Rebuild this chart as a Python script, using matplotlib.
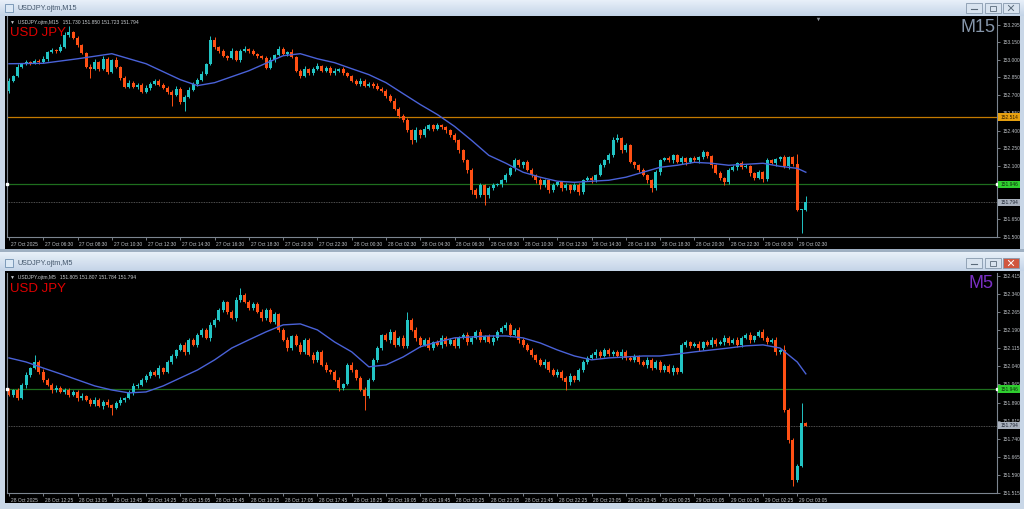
import numpy as np
import matplotlib
matplotlib.use("Agg")
import matplotlib.pyplot as plt
from matplotlib.patches import Rectangle
from matplotlib.colors import LinearSegmentedColormap
import matplotlib.transforms as mtransforms

plt.rcParams['font.family'] = ['Liberation Sans', 'DejaVu Sans']

# ------------------------------------------------------------------ data
# M15 panel (27 Oct 04:30 .. 29 Oct 03:00), open of first bar, closes, wick lengths
m15_open0 = 152.739
m15_close = [
    152.823, 152.865, 152.941, 152.966, 152.983, 152.975, 152.992, 152.983, 153.008, 153.067,
    153.084, 153.076, 153.110, 153.211, 153.236, 153.185, 153.126, 153.059, 152.941, 152.924,
    152.983, 152.924, 153.008, 152.899, 153.000, 152.941, 152.848, 152.772, 152.806, 152.772,
    152.789, 152.730, 152.764, 152.798, 152.823, 152.789, 152.764, 152.730, 152.705, 152.756,
    152.646, 152.688, 152.747, 152.798, 152.831, 152.882, 152.966, 153.169, 153.110, 153.076,
    153.034, 153.017, 153.076, 153.000, 153.076, 153.093, 153.076, 153.051, 153.034, 153.017,
    152.933, 153.000, 153.042, 153.093, 153.051, 153.067, 153.025, 152.907, 152.865, 152.924,
    152.890, 152.924, 152.949, 152.907, 152.933, 152.890, 152.907, 152.924, 152.890, 152.865,
    152.823, 152.798, 152.823, 152.781, 152.798, 152.781, 152.756, 152.739, 152.697, 152.655,
    152.587, 152.528, 152.486, 152.402, 152.317, 152.402, 152.360, 152.418, 152.444, 152.418,
    152.444, 152.427, 152.402, 152.360, 152.317, 152.233, 152.149, 152.065, 151.896, 151.854,
    151.938, 151.854, 151.913, 151.938, 151.945, 151.980, 152.022, 152.081, 152.149, 152.107,
    152.132, 152.065, 152.022, 151.980, 151.938, 151.980, 151.896, 151.938, 151.963, 151.913,
    151.938, 151.896, 151.938, 151.879, 151.980, 151.997, 151.980, 152.022, 152.107, 152.149,
    152.191, 152.317, 152.334, 152.233, 152.275, 152.132, 152.107, 152.065, 152.022, 151.980,
    151.913, 152.048, 152.149, 152.166, 152.149, 152.191, 152.132, 152.166, 152.132, 152.166,
    152.149, 152.174, 152.216, 152.183, 152.107, 152.039, 151.997, 151.963, 152.065, 152.090,
    152.124, 152.090, 152.098, 152.039, 151.997, 152.048, 151.989, 152.149, 152.124, 152.157,
    152.174, 152.098, 152.174, 152.115, 151.728, 151.730, 151.794]
m15_up_wick = [
    .02, .01, .02, .01, .015, .01, .015, .01, .02, .01, .015, .01, .02, .02, .05, .01, .015, .01, .01, .02,
    .02, .01, .02, .015, .01, .02, .01, .015, .02, .01, .015, .01, .02, .01, .015, .01, .01, .015, .01, .02,
    .01, .015, .02, .01, .015, .02, .01, .033, .02, .01, .015, .01, .02, .01, .015, .02, .01, .015, .01, .01,
    .015, .02, .01, .02, .015, .01, .02, .01, .015, .02, .01, .015, .02, .01, .015, .01, .02, .01, .015, .01,
    .01, .015, .02, .01, .015, .01, .02, .01, .015, .01, .02, .01, .015, .02, .01, .03, .015, .02, .01, .015,
    .02, .01, .015, .01, .02, .01, .015, .01, .02, .015, .02, .01, .015, .02, .01, .015, .02, .01, .02, .015,
    .01, .02, .015, .01, .02, .01, .015, .02, .01, .015, .02, .01, .015, .02, .01, .015, .02, .01, .02, .015,
    .02, .03, .04, .015, .02, .01, .015, .01, .02, .015, .01, .02, .015, .01, .02, .015, .01, .02, .015, .01,
    .02, .015, .02, .01, .015, .01, .02, .01, .015, .02, .01, .015, .02, .01, .015, .02, .01, .02, .015, .01,
    .015, .02, .01, .015, .085, .01, .056]
m15_lo_wick = [
    .02, .015, .01, .015, .01, .02, .01, .015, .01, .02, .01, .015, .01, .01, .015, .01, .02, .01, .015, .076,
    .015, .02, .01, .02, .015, .01, .02, .01, .015, .01, .02, .015, .01, .02, .01, .015, .01, .02, .093, .015,
    .02, .076, .015, .01, .02, .01, .015, .01, .02, .015, .01, .02, .015, .01, .02, .01, .015, .01, .02, .015,
    .01, .015, .02, .01, .015, .02, .01, .015, .02, .01, .015, .02, .01, .015, .01, .02, .015, .01, .02, .01,
    .015, .01, .02, .015, .01, .02, .01, .015, .02, .01, .015, .02, .01, .015, .03, .01, .02, .015, .01, .02,
    .015, .01, .02, .015, .01, .02, .015, .02, .03, .02, .015, .084, .02, .015, .01, .02, .015, .01, .02, .015,
    .02, .01, .015, .02, .03, .015, .02, .015, .01, .02, .015, .02, .01, .02, .015, .01, .02, .015, .01, .015,
    .02, .015, .01, .02, .015, .01, .02, .015, .01, .02, .03, .015, .02, .01, .015, .02, .01, .015, .02, .01,
    .015, .02, .01, .015, .02, .01, .015, .02, .015, .01, .02, .015, .01, .02, .015, .01, .02, .015, .01, .02,
    .015, .01, .02, .015, .01, .196, .007]
m15_ma_idx = [0, 8, 16, 24, 32, 40, 44, 48, 56, 64, 68, 72, 76, 80, 84, 88, 92, 96, 100, 104,
              108, 112, 116, 120, 124, 128, 132, 136, 140, 144, 148, 152, 156, 160, 164, 168,
              172, 176, 180, 184, 186]
m15_ma_val = [152.966, 152.970, 153.008, 153.051, 152.966, 152.831, 152.781, 152.806, 152.907, 153.034,
              153.051, 153.008, 152.975, 152.924, 152.874, 152.806, 152.713, 152.621, 152.536, 152.436,
              152.317, 152.191, 152.124, 152.048, 152.006, 151.972, 151.963, 151.972, 151.980, 152.006,
              152.048, 152.090, 152.107, 152.132, 152.124, 152.107, 152.115, 152.124, 152.098, 152.081,
              152.048]
m15_time_labels = ['27 Oct 2025', '27 Oct 06:30', '27 Oct 08:30', '27 Oct 10:30', '27 Oct 12:30',
                   '27 Oct 14:30', '27 Oct 16:30', '27 Oct 18:30', '27 Oct 20:30', '27 Oct 22:30',
                   '28 Oct 00:30', '28 Oct 02:30', '28 Oct 04:30', '28 Oct 06:30', '28 Oct 08:30',
                   '28 Oct 10:30', '28 Oct 12:30', '28 Oct 14:30', '28 Oct 16:30', '28 Oct 18:30',
                   '28 Oct 20:30', '28 Oct 22:30', '29 Oct 00:30', '29 Oct 02:30']
m15_price_ticks = [153.295, 153.150, 153.000, 152.850, 152.700, 152.550, 152.400, 152.250,
                   152.100, 151.650, 151.500]
m15_ohlc_header = ['151.730', '151.850', '151.723', '151.794']
m15_orange_level = 152.514

# M5 panel (28 Oct 11:45 .. 29 Oct 03:15)
m5_open0 = 151.942
m5_close = [
    151.922, 151.942, 151.909, 151.963, 152.004, 152.033, 152.058, 152.017, 151.984, 151.963,
    151.942, 151.951, 151.934, 151.942, 151.922, 151.934, 151.909, 151.917, 151.901, 151.884,
    151.901, 151.876, 151.893, 151.880, 151.868, 151.888, 151.901, 151.909, 151.934, 151.959,
    151.963, 151.984, 152.000, 152.017, 152.004, 152.033, 152.017, 152.058, 152.083, 152.108,
    152.129, 152.100, 152.150, 152.129, 152.170, 152.191, 152.158, 152.212, 152.233, 152.274,
    152.307, 152.266, 152.241, 152.315, 152.336, 152.307, 152.282, 152.299, 152.266, 152.241,
    152.274, 152.224, 152.257, 152.191, 152.150, 152.116, 152.166, 152.129, 152.100, 152.150,
    152.087, 152.067, 152.100, 152.046, 152.025, 152.017, 151.984, 151.951, 151.967, 152.046,
    152.025, 151.992, 151.942, 151.917, 151.984, 152.067, 152.116, 152.170, 152.150, 152.183,
    152.129, 152.158, 152.125, 152.233, 152.191, 152.158, 152.129, 152.150, 152.116, 152.141,
    152.129, 152.158, 152.133, 152.150, 152.125, 152.158, 152.170, 152.141, 152.158, 152.183,
    152.150, 152.166, 152.141, 152.158, 152.183, 152.199, 152.212, 152.170, 152.191, 152.150,
    152.129, 152.108, 152.087, 152.067, 152.046, 152.058, 152.025, 152.004, 152.017, 151.992,
    151.975, 152.000, 151.984, 152.025, 152.058, 152.075, 152.087, 152.100, 152.083, 152.108,
    152.091, 152.100, 152.083, 152.100, 152.075, 152.067, 152.083, 152.058, 152.046, 152.067,
    152.033, 152.058, 152.025, 152.042, 152.017, 152.033, 152.017, 152.129, 152.141, 152.125,
    152.133, 152.116, 152.141, 152.129, 152.150, 152.133, 152.141, 152.158, 152.137, 152.150,
    152.129, 152.158, 152.170, 152.150, 152.166, 152.183, 152.158, 152.141, 152.150, 152.100,
    152.108, 151.859, 151.735, 151.569, 151.627, 151.805, 151.794]
m5_up_wick = [
    .008, .006, .01, .008, .012, .006, .029, .008, .01, .006, .008, .012, .006, .008, .01, .006, .008, .012, .006, .008,
    .01, .006, .008, .012, .006, .008, .01, .006, .008, .012, .006, .008, .01, .006, .008, .012, .006, .008, .01, .006,
    .008, .012, .006, .008, .01, .006, .008, .012, .006, .008, .01, .006, .008, .012, .029, .008, .01, .006, .008, .012,
    .006, .008, .01, .006, .008, .012, .006, .008, .01, .006, .008, .012, .006, .008, .01, .006, .008, .012, .006, .008,
    .01, .006, .008, .012, .006, .008, .01, .006, .008, .012, .006, .008, .01, .033, .008, .012, .006, .008, .01, .006,
    .008, .012, .006, .008, .01, .006, .008, .012, .006, .008, .01, .006, .008, .012, .006, .008, .01, .006, .008, .012,
    .006, .008, .01, .006, .008, .012, .006, .008, .01, .006, .008, .012, .006, .008, .01, .006, .008, .012, .006, .008,
    .01, .006, .008, .012, .006, .008, .01, .006, .008, .012, .006, .008, .01, .006, .008, .012, .006, .008, .01, .006,
    .008, .012, .006, .008, .01, .006, .008, .012, .006, .008, .01, .006, .008, .012, .006, .008, .01, .006, .008, .012,
    .006, .02, .008, .006, .01, .083, .003]
m5_lo_wick = [
    .006, .01, .008, .006, .012, .008, .006, .01, .008, .006, .012, .008, .006, .01, .008, .006, .012, .008, .006, .01,
    .008, .006, .012, .008, .029, .006, .01, .008, .006, .012, .008, .006, .01, .008, .006, .012, .008, .006, .01, .008,
    .006, .012, .008, .006, .01, .008, .006, .012, .008, .006, .01, .008, .006, .012, .008, .006, .01, .008, .006, .012,
    .008, .006, .01, .008, .006, .012, .008, .006, .01, .008, .006, .012, .008, .006, .01, .008, .006, .012, .008, .006,
    .01, .008, .006, .058, .008, .006, .01, .008, .006, .012, .008, .006, .01, .008, .006, .012, .008, .006, .01, .008,
    .006, .012, .008, .006, .01, .008, .006, .012, .008, .006, .01, .008, .006, .012, .008, .006, .01, .008, .006, .012,
    .008, .006, .01, .008, .006, .012, .008, .006, .01, .008, .033, .012, .008, .006, .01, .008, .006, .012, .008, .006,
    .01, .008, .006, .012, .008, .006, .01, .008, .006, .012, .008, .006, .01, .008, .006, .012, .008, .006, .01, .008,
    .006, .012, .008, .006, .01, .008, .006, .012, .008, .006, .01, .008, .006, .012, .008, .006, .01, .008, .006, .012,
    .008, .01, .012, .025, .01, .006, .003]
m5_ma_idx = [0, 4, 8, 12, 16, 20, 24, 28, 32, 36, 40, 44, 48, 52, 56, 60, 64, 68, 72, 76,
             80, 84, 88, 92, 96, 100, 104, 108, 112, 116, 120, 124, 128, 132, 136, 140, 144, 148,
             152, 156, 160, 164, 168, 172, 176, 180, 184, 186]
m5_ma_val = [152.075, 152.058, 152.033, 152.009, 151.984, 151.959, 151.942, 151.930, 151.934, 151.959,
             151.992, 152.025, 152.067, 152.116, 152.150, 152.183, 152.212, 152.216, 152.191, 152.141,
             152.100, 152.038, 152.046, 152.079, 152.121, 152.141, 152.158, 152.162, 152.166, 152.166,
             152.158, 152.137, 152.108, 152.083, 152.067, 152.075, 152.079, 152.083, 152.083, 152.091,
             152.100, 152.108, 152.116, 152.125, 152.129, 152.116, 152.058, 152.009]
m5_time_labels = ['28 Oct 2025', '28 Oct 12:25', '28 Oct 13:05', '28 Oct 13:45', '28 Oct 14:25',
                  '28 Oct 15:05', '28 Oct 15:45', '28 Oct 16:25', '28 Oct 17:05', '28 Oct 17:45',
                  '28 Oct 18:25', '28 Oct 19:05', '28 Oct 19:45', '28 Oct 20:25', '28 Oct 21:05',
                  '28 Oct 21:45', '28 Oct 22:25', '28 Oct 23:05', '28 Oct 23:45', '29 Oct 00:25',
                  '29 Oct 01:05', '29 Oct 01:45', '29 Oct 02:25', '29 Oct 03:05']
m5_price_ticks = [152.415, 152.340, 152.265, 152.190, 152.115, 152.040, 151.965, 151.890,
                  151.815, 151.740, 151.665, 151.590, 151.515]
m5_ohlc_header = ['151.805', '151.807', '151.784', '151.794']

green_level = 151.946
bid_level = 151.794

# ------------------------------------------------------------------ style
CYAN = '#22c4c4'
ORANGE = '#ff5014'
MA_COL = '#4a62d8'
W, H = 1024, 509

fig = plt.figure(figsize=(W / 100, H / 100), dpi=100)
fig.patch.set_facecolor('#c9d7e7')

bg = fig.add_axes([0, 0, 1, 1], zorder=0)
bg.axis('off')
title_cmap = LinearSegmentedColormap.from_list('tb', ['#e8f0f9', '#c4d4e7'])
grad = np.linspace(0, 1, 32).reshape(-1, 1)
bg.imshow(grad, cmap=title_cmap, extent=(0, W, 16, 0), aspect='auto')
bg.imshow(grad, cmap=title_cmap, extent=(0, W, 271, 252), aspect='auto')
bg.add_patch(Rectangle((5, 16), 1015, 233, facecolor='black', edgecolor='none'))
bg.add_patch(Rectangle((0, 249), W, 3, facecolor='#9fb0c2', edgecolor='none'))
bg.add_patch(Rectangle((5, 271), 1015, 232, facecolor='black', edgecolor='none'))
bg.set_xlim(0, W)
bg.set_ylim(H, 0)


def window_chrome(y0, title, red_close):
    bg.add_patch(Rectangle((5, y0 + 4), 8, 8, facecolor='#dbe8f5', edgecolor='#6f8fb0', lw=0.6))
    bg.text(18, y0 + 8.5, title, fontsize=5.2, color='#42556a', va='center', ha='left')
    xs = [(966, 982), (985, 1001), (1003, 1019)]
    for k, (a, b) in enumerate(xs):
        face = '#d8e3ef'
        if red_close and k == 2:
            face = '#d0563e'
        bg.add_patch(Rectangle((a, y0 + 3), b - a, 10, facecolor=face, edgecolor='#8799ad', lw=0.6))
    cx = [(966 + 982) / 2, (985 + 1001) / 2, (1003 + 1019) / 2]
    bg.plot([cx[0] - 3, cx[0] + 3], [y0 + 9, y0 + 9], color='#5a6a7a', lw=0.8)
    bg.add_patch(Rectangle((cx[1] - 3, y0 + 5.5), 6, 5, facecolor='none', edgecolor='#5a6a7a', lw=0.6))
    xc = 'white' if red_close else '#5a6a7a'
    bg.plot([cx[2] - 2.5, cx[2] + 2.5], [y0 + 5.5, y0 + 10.5], color=xc, lw=0.7)
    bg.plot([cx[2] - 2.5, cx[2] + 2.5], [y0 + 10.5, y0 + 5.5], color=xc, lw=0.7)


window_chrome(0, 'USDJPY.ojtm,M15', False)
window_chrome(255, 'USDJPY.ojtm,M5', True)

PX_PER_BAR = 4.284
X_LEFT, X_RIGHT = 7, 997
XMIN = -(9 - X_LEFT) / PX_PER_BAR
XMAX = XMIN + (X_RIGHT - X_LEFT) / PX_PER_BAR


def chart(y_top, y_bot, ylo, yhi, open0, close, upw, low, ma_idx, ma_val,
          time_labels, price_ticks, orange_level=None):
    ax = fig.add_axes([X_LEFT / W, 1 - y_bot / H, (X_RIGHT - X_LEFT) / W, (y_bot - y_top) / H], zorder=2)
    ax.set_facecolor('black')
    ax.set_xlim(XMIN, XMAX)
    ax.set_ylim(ylo, yhi)
    ax.spines['top'].set_visible(False)
    for s in ['left', 'bottom', 'right']:
        ax.spines[s].set_color('#7c8590')
        ax.spines[s].set_linewidth(0.8)

    c = np.array(close)
    o = np.r_[open0, c[:-1]]
    x = np.arange(len(c))
    hi = np.maximum(o, c) + np.array(upw)
    lo = np.minimum(o, c) - np.array(low)
    bull = c >= o
    cols = np.where(bull, CYAN, ORANGE)
    ax.vlines(x, lo, hi, colors=cols, lw=0.7, zorder=3)
    minh = (yhi - ylo) * 0.004
    body = np.where(np.abs(c - o) < minh, minh, np.abs(c - o))
    ax.bar(x, body, bottom=np.minimum(o, c), width=0.7, color=cols, linewidth=0, zorder=4)

    ax.plot(ma_idx, ma_val, color=MA_COL, lw=1.0, zorder=5)

    if orange_level is not None:
        ax.axhline(orange_level, color='#c47a00', lw=0.9, zorder=2)
    ax.axhline(green_level, color='#1e6e1e', lw=0.9, zorder=2)
    ax.axhline(bid_level, color='#6a6a6a', lw=0.6, ls=(0, (1, 1)), zorder=2)
    ax.plot([XMIN], [green_level], 's', ms=1.6, color='white', clip_on=False, zorder=6)
    ax.plot([XMAX], [green_level], 's', ms=1.6, color='white', clip_on=False, zorder=6)

    ax.yaxis.tick_right()
    ax.set_yticks(price_ticks)
    ax.set_yticklabels([f'{v:.3f}' for v in price_ticks], fontsize=3.5, color='#bfc3c8')
    ax.tick_params(axis='y', length=2.5, width=0.6, color='#8a9099', pad=1.2)
    tpos = np.arange(len(time_labels)) * 8
    ax.set_xticks(tpos)
    ax.set_xticklabels(time_labels, fontsize=3.5, color='#bfc3c8', ha='left')
    ax.tick_params(axis='x', length=2.5, width=0.6, color='#8a9099', pad=1.2)
    off = mtransforms.ScaledTranslation(1.8 / 100, 0, fig.dpi_scale_trans)
    for lab in ax.get_xticklabels():
        lab.set_transform(lab.get_transform() + off)

    tr = mtransforms.blended_transform_factory(ax.transAxes, ax.transData)
    hbox = (yhi - ylo) / (y_bot - y_top) * 7.5
    boxes = [(green_level, '#2fce2f', '#0d2a0d'), (bid_level, '#a9b1bd', '#1b2230')]
    if orange_level is not None:
        boxes.insert(0, (orange_level, '#e6a010', '#2a1800'))
    for lev, fc, tc in boxes:
        ax.add_patch(Rectangle((1.0012, lev - hbox / 2), 0.0225, hbox, transform=tr,
                               facecolor=fc, edgecolor='none', clip_on=False, zorder=7))
        ax.text(1.0125, lev, f'{lev:.3f}', transform=tr, fontsize=3.5, color=tc,
                ha='center', va='center', clip_on=False, zorder=8)
    return ax


ax1 = chart(16, 237, 151.500, 153.370, m15_open0, m15_close, m15_up_wick, m15_lo_wick,
            m15_ma_idx, m15_ma_val, m15_time_labels, m15_price_ticks, orange_level=m15_orange_level)
ax2 = chart(273, 493, 151.515, 152.427, m5_open0, m5_close, m5_up_wick, m5_lo_wick,
            m5_ma_idx, m5_ma_val, m5_time_labels, m5_price_ticks)

ov = fig.add_axes([0, 0, 1, 1], zorder=10)
ov.axis('off')
ov.set_xlim(0, W)
ov.set_ylim(H, 0)
ov.patch.set_alpha(0)
ov.text(10, 22, '\u25bc  USDJPY.ojtm,M15   ' + ' '.join(m15_ohlc_header), fontsize=3.6,
        color='#c8ccd0', va='center', ha='left')
ov.text(10, 278, '\u25bc  USDJPY.ojtm,M5   ' + ' '.join(m5_ohlc_header), fontsize=3.6,
        color='#c8ccd0', va='center', ha='left')
ov.text(10, 33, 'USD JPY', fontsize=9.5, color='#e00000', va='center', ha='left')
ov.text(10, 289, 'USD JPY', fontsize=9.5, color='#e00000', va='center', ha='left')
ov.text(995, 27, 'M15', fontsize=13, color='#8696aa', va='center', ha='right')
ov.text(994, 284, 'M5', fontsize=13, color='#7a2fc4', va='center', ha='right')
ov.plot([818], [18.5], marker='v', ms=2.5, color='#8a8f96', mew=0)

fig.savefig('out.png', dpi=100, facecolor=fig.get_facecolor())
